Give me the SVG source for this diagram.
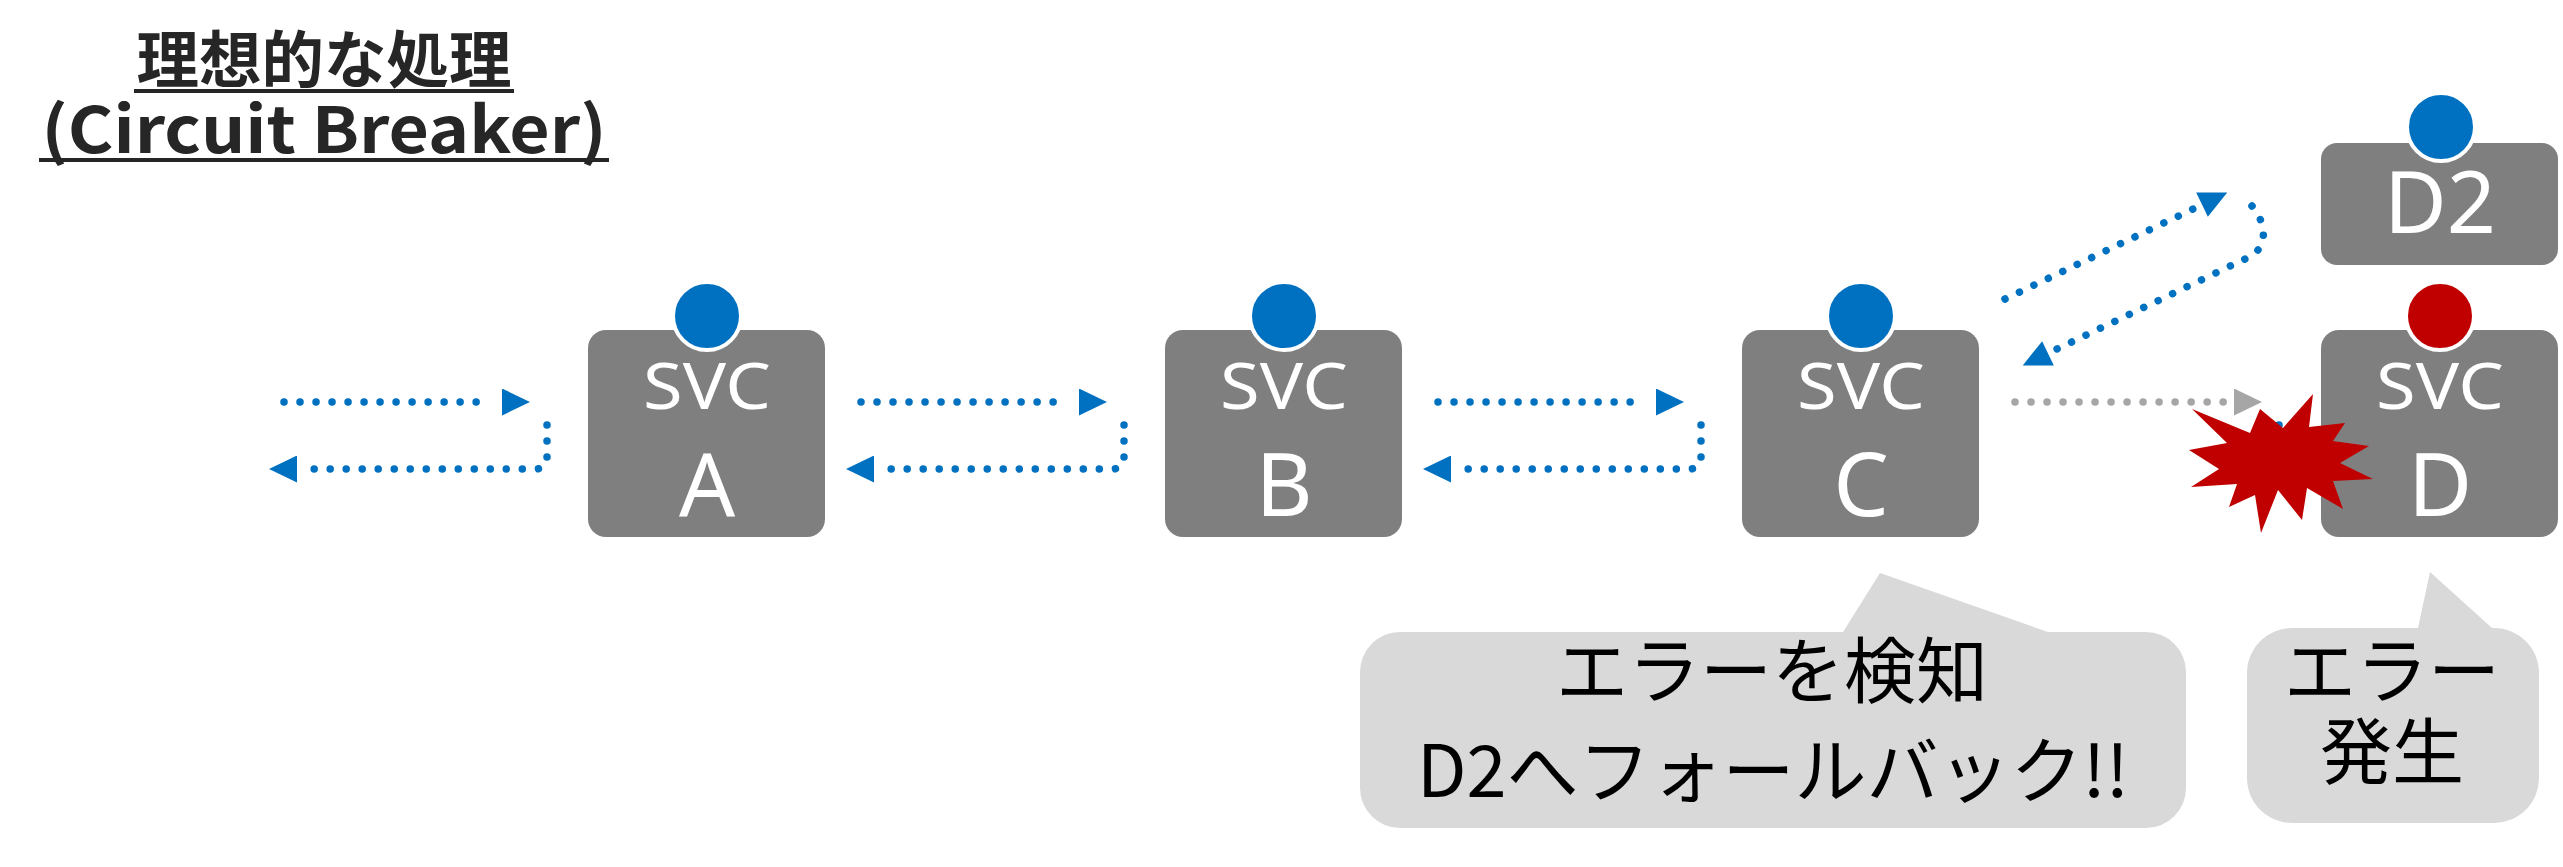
<svg xmlns="http://www.w3.org/2000/svg" width="2563" height="867" viewBox="0 0 2563 867">
<style>
.title{font-family:"Noto Sans CJK JP","Noto Sans",sans-serif;font-weight:700;fill:#262626}
.box{fill:#7F7F7F}
.dot{stroke:#FFFFFF;stroke-width:4}
.lbl{font-family:"Noto Sans","Noto Sans CJK JP",sans-serif;fill:#FFFFFF;text-anchor:middle}
.flow{fill:none;stroke:#0070C0;stroke-width:7.5;stroke-linecap:round;stroke-dasharray:0.01 16}
.flow.gray{stroke:#A6A6A6}
.call{fill:#D9D9D9}
.ctext{font-family:"Noto Sans CJK JP",sans-serif;font-size:72px;fill:#000000;text-anchor:middle}
</style>
<defs>
<marker id="ah" viewBox="0 0 38 27" markerWidth="38" markerHeight="27" refX="0" refY="13.5" orient="auto" markerUnits="userSpaceOnUse"><path d="M10,0 L38,13.5 L10,27 Z" fill="#0070C0"/></marker>
<marker id="ahg" viewBox="0 0 38 27" markerWidth="38" markerHeight="27" refX="0" refY="13.5" orient="auto" markerUnits="userSpaceOnUse"><path d="M10,0 L38,13.5 L10,27 Z" fill="#A6A6A6"/></marker>
</defs>
<g id="title">
<text class="title" x="324" y="83" font-size="62" text-anchor="middle" textLength="375" lengthAdjust="spacingAndGlyphs">理想的な処理</text>
<rect x="134" y="89" width="380" height="4" fill="#262626"/>
<text class="title" x="324" y="153" font-size="64" text-anchor="middle" textLength="565" lengthAdjust="spacingAndGlyphs">(Circuit Breaker)</text>
<rect x="39" y="158" width="570" height="4" fill="#262626"/>
</g>
<g id="connectors">
<path class="flow" d="M284 402 H492" marker-end="url(#ah)"/>
<path class="flow" d="M547 425 V457 Q547 469 535 469 H307" marker-end="url(#ah)"/>
<path class="flow" d="M861 402 H1069" marker-end="url(#ah)"/>
<path class="flow" d="M1124 425 V457 Q1124 469 1112 469 H884" marker-end="url(#ah)"/>
<path class="flow" d="M1438 402 H1646" marker-end="url(#ah)"/>
<path class="flow" d="M1701 425 V457 Q1701 469 1689 469 H1461" marker-end="url(#ah)"/>
<path class="flow gray" d="M2015 402 H2224" marker-end="url(#ahg)"/>
<path class="flow" d="M2005 299 L2193 209" marker-end="url(#ah)"/>
<path class="flow" d="M2252 206 C2266 222 2270 248 2247 258 L2057 349" marker-end="url(#ah)"/>
<circle cx="2279" cy="425" r="3.8" fill="#0070C0"/>
</g>
<g id="svc-a">
<rect class="box" x="588" y="330" width="237" height="207" rx="18"/>
<circle class="dot" cx="707" cy="316" r="34" fill="#0070C0"/>
<text class="lbl" x="707" y="409" font-size="64" textLength="128" lengthAdjust="spacingAndGlyphs">SVC</text>
<text class="lbl" x="707" y="516" font-size="88">A</text>
</g>
<g id="svc-b">
<rect class="box" x="1165" y="330" width="237" height="207" rx="18"/>
<circle class="dot" cx="1284" cy="316" r="34" fill="#0070C0"/>
<text class="lbl" x="1284" y="409" font-size="64" textLength="128" lengthAdjust="spacingAndGlyphs">SVC</text>
<text class="lbl" x="1284" y="516" font-size="88">B</text>
</g>
<g id="svc-c">
<rect class="box" x="1742" y="330" width="237" height="207" rx="18"/>
<circle class="dot" cx="1861" cy="316" r="34" fill="#0070C0"/>
<text class="lbl" x="1861" y="409" font-size="64" textLength="128" lengthAdjust="spacingAndGlyphs">SVC</text>
<text class="lbl" x="1861" y="516" font-size="88">C</text>
</g>
<g id="svc-d">
<rect class="box" x="2321" y="330" width="237" height="207" rx="18"/>
<circle class="dot" cx="2440" cy="316" r="34" fill="#C00000"/>
<text class="lbl" x="2440" y="409" font-size="64" textLength="128" lengthAdjust="spacingAndGlyphs">SVC</text>
<text class="lbl" x="2440" y="516" font-size="88">D</text>
</g>
<g id="svc-d2">
<rect class="box" x="2321" y="143" width="237" height="122" rx="16"/>
<circle class="dot" cx="2441" cy="127" r="34" fill="#0070C0"/>
<text class="lbl" x="2440" y="233" font-size="86">D2</text>
</g>
<g id="explosion">
<polygon fill="#C00000" points="2313,394 2283,428 2260,409 2250,433 2192,409 2227,443 2189,450 2219,469 2191,487 2237,484 2229,507 2255,495 2261,533 2278,490 2302,520 2307,488 2343,509 2333,481 2373,479 2340,463 2369,446 2333,441 2345,423 2309,427"/>
</g>
<g id="callout-detect">
<path class="call" d="M1400 632 H1843 L1880 573 L2048 632 H2146 A40 40 0 0 1 2186 672 V788 A40 40 0 0 1 2146 828 H1400 A40 40 0 0 1 1360 788 V672 A40 40 0 0 1 1400 632 Z"/>
<text class="ctext" x="1772" y="697">エラーを検知</text>
<text class="ctext" x="1773" y="797">D2へフォールバック!!</text>
</g>
<g id="callout-error">
<path class="call" d="M2292 628 H2418 L2430 572 L2492 628 H2494 A45 45 0 0 1 2539 673 V778 A45 45 0 0 1 2494 823 H2292 A45 45 0 0 1 2247 778 V673 A45 45 0 0 1 2292 628 Z"/>
<text class="ctext" x="2392" y="697">エラー</text>
<text class="ctext" x="2392" y="778">発生</text>
</g>
</svg>
